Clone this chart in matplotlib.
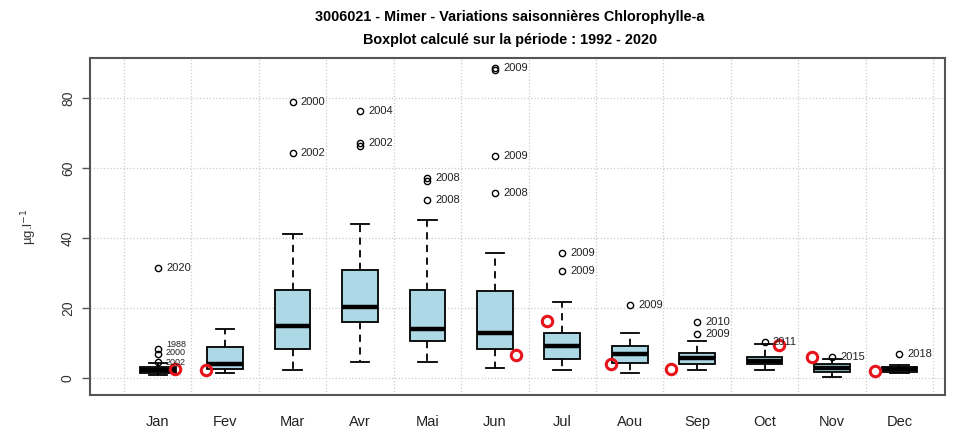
import matplotlib
matplotlib.use("Agg")
import matplotlib.pyplot as plt

months = ["Jan", "Fev", "Mar", "Avr", "Mai", "Jun", "Jul", "Aou", "Sep", "Oct", "Nov", "Dec"]

# box statistics (µg/l)
whislo = [0.8, 1.3, 2.3, 4.7, 4.7, 2.8, 2.3, 1.5, 2.3, 2.3, 0.4, 1.3]
q1 = [1.5, 2.5, 8.4, 16.1, 10.7, 8.2, 5.4, 4.4, 4.0, 3.9, 1.8, 1.8]
med = [2.2, 4.0, 15.0, 20.4, 14.1, 12.8, 9.2, 6.9, 5.6, 4.9, 2.8, 2.5]
q3 = [3.2, 8.8, 25.1, 30.9, 25.1, 24.9, 12.8, 9.1, 7.2, 5.9, 3.9, 3.2]
whishi = [4.2, 13.9, 41.1, 43.9, 45.0, 35.8, 21.7, 12.9, 10.7, 9.7, 5.3, 3.7]

# outliers: month number, value, year label
out_month = [1, 1, 1, 1, 3, 3, 4, 4, 4, 5, 5, 5, 6, 6, 6, 6, 7, 7, 8, 9, 9, 10, 11, 12]
out_value = [31.4, 8.2, 6.9, 4.6, 78.9, 64.2, 76.4, 67.0, 66.2, 57.0, 56.3, 50.9,
             88.6, 87.9, 63.5, 52.8, 35.6, 30.7, 21.0, 16.1, 12.6, 10.2, 6.0, 6.8]
out_year = ["2020", "1988", "2000", "2002", "2000", "2002", "2004", "2002", "2002",
            "2008", "2008", "2008", "2009", "2009", "2009", "2008", "2009", "2009",
            "2009", "2010", "2009", "2011", "2015", "2018"]

# current year samples (date position inside the month)
red_x = [1.26, 1.72, 6.32, 6.78, 7.72, 8.61, 10.21, 10.7, 11.64]
red_y = [2.5, 2.3, 6.6, 16.4, 4.0, 2.5, 9.4, 6.1, 2.1]

plt.rcParams["font.family"] = ["Liberation Sans", "DejaVu Sans"]

fig = plt.figure(figsize=(9.6, 4.3), dpi=100)
ax = fig.add_axes([0.094, 0.081, 0.89, 0.784])

stats = []
for i in range(len(months)):
    stats.append({"med": med[i], "q1": q1[i], "q3": q3[i],
                  "whislo": whislo[i], "whishi": whishi[i], "fliers": []})

ax.bxp(stats, positions=range(1, 13), widths=0.53, patch_artist=True,
       showfliers=False,
       boxprops=dict(facecolor="#add8e6", edgecolor="black", linewidth=1.3),
       medianprops=dict(color="black", linewidth=3.2),
       whiskerprops=dict(color="black", linewidth=1.3, linestyle=(0, (4, 3))),
       capprops=dict(color="black", linewidth=1.3),
       capwidths=0.27)

ax.plot(out_month, out_value, "o", ms=4.5, mfc="none", mec="black", mew=1.0, zorder=4)
ax.plot(red_x, red_y, "o", ms=7.5, mfc="none", mec="#e8121b", mew=2.2, zorder=5)

done = []
for m, v, yr in zip(out_month, out_value, out_year):
    # points of the same year stacked on each other share one label
    if any(m == dm and yr == dy and abs(v - dv) < 2 for dm, dv, dy in done):
        continue
    done.append((m, v, yr))
    size, dy = 8, 0
    if m == 1 and v < 10:
        # crowded January labels: smaller and spread a little
        size = 6.5
        dy = {"1988": 3.5, "2000": 1.2, "2002": -0.5}.get(yr, 0)
    ax.annotate(yr, (m, v), xytext=(6, dy), textcoords="offset points",
                va="center", ha="left", fontsize=size, color="#222222", zorder=6)

ax.set_xlim(0, 12.67)
ax.set_ylim(-4.9, 91.4)
ax.set_xticks(range(1, 13))
ax.set_xticklabels(months, fontsize=10.5, color="#222222")
ax.set_yticks([0, 20, 40, 60, 80])
ax.set_yticklabels(["0", "20", "40", "60", "80"], rotation=90, va="center",
                   fontsize=10, color="#333333")
ax.tick_params(axis="x", length=0, pad=14)
ax.tick_params(axis="y", length=6, width=1, color="#555555", pad=5)

for y in [0, 20, 40, 60, 80]:
    ax.axhline(y, color="#cccccc", lw=0.9, ls=":", zorder=0)
for k in range(13):
    ax.axvline(k + 0.5, color="#cccccc", lw=0.9, ls=":", zorder=0)

for s in ax.spines.values():
    s.set_color("#555555")
    s.set_linewidth(1.5)

ax.set_ylabel(r"µg.l$^{-1}$", fontsize=9.5, color="#333333", labelpad=16)

fig.text(0.531, 0.96, "3006021 - Mimer - Variations saisonnières Chlorophylle-a",
         ha="center", va="center", fontsize=10.4, fontweight="bold")
fig.text(0.531, 0.907, "Boxplot calculé sur la période : 1992 - 2020",
         ha="center", va="center", fontsize=10.4, fontweight="bold")

fig.savefig("out.png", dpi=100)
